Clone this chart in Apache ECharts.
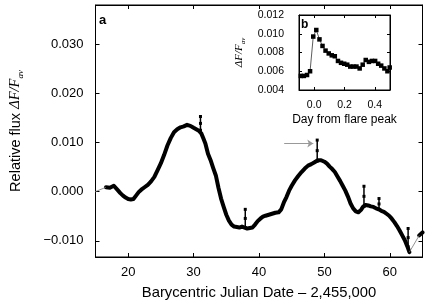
<!DOCTYPE html>
<html>
<head>
<meta charset="utf-8">
<script src="https://cdn.jsdelivr.net/npm/echarts@6/dist/echarts.min.js"></script>
<style>html,body{margin:0;padding:0;background:#fff}#chart{width:437px;height:308px}</style>
</head>
<body>
<div id="chart"></div>
<script>
var chart = echarts.init(document.getElementById('chart'));//初始化

// light curve
var mainX = [16.6,16.9,17.2,17.5,17.8,18.1,18.4,18.8,19.2,19.6,20.0,20.4,20.8,21.2,21.6,22.0,22.5,23.0,23.5,24.0,24.5,25.0,25.5,26.0,26.5,27.0,27.5,28.0,28.5,29.0,29.5,30.0,30.4,30.8,31.2,31.5,31.8,32.2,32.6,33.0,33.4,33.8,34.2,34.6,35.0,35.4,35.8,36.2,36.6,37.0,37.4,37.8,38.2,38.6,39.0,39.4,39.8,40.2,40.6,41.0,41.5,42.0,42.5,43.0,43.4,43.8,44.2,44.6,45.0,45.5,46.0,46.5,47.0,47.5,48.0,48.5,49.0,49.5,50.0,50.4,50.8,51.2,51.6,52.0,52.4,52.8,53.2,53.6,54.0,54.4,54.8,55.2,55.6,55.9,56.3,56.7,57.1,57.5,57.9,58.3,58.7,59.1,59.5,59.9,60.3,60.7,61.1,61.5,61.9,62.3,62.7,63.0];
var mainY = [0.0009,0.0005,0.0008,0.0011,0.0012,0.0008,0.0003,-0.0003,-0.0008,-0.0012,-0.0015,-0.0016,-0.0015,-0.0008,-0.0001,0.0004,0.0009,0.0014,0.0021,0.0030,0.0044,0.0058,0.0075,0.0094,0.0109,0.0121,0.0127,0.0131,0.0133,0.0136,0.0134,0.0130,0.0127,0.0124,0.0118,0.0108,0.0098,0.0077,0.0064,0.0048,0.0033,0.0008,-0.0014,-0.0031,-0.0047,-0.0059,-0.0067,-0.0071,-0.0072,-0.0073,-0.0071,-0.0073,-0.0075,-0.0074,-0.0073,-0.0067,-0.0060,-0.0055,-0.0051,-0.0049,-0.0047,-0.0045,-0.0043,-0.0042,-0.0036,-0.0022,-0.0011,0.0002,0.0012,0.0023,0.0032,0.0040,0.0047,0.0053,0.0056,0.0060,0.0064,0.0064,0.0061,0.0057,0.0051,0.0046,0.0040,0.0031,0.0022,0.0012,0.0002,-0.0010,-0.0024,-0.0034,-0.0040,-0.0042,-0.0037,-0.0031,-0.0027,-0.0028,-0.0030,-0.0031,-0.0034,-0.0036,-0.0039,-0.0041,-0.0045,-0.0049,-0.0055,-0.0062,-0.0070,-0.0079,-0.0089,-0.0099,-0.0112,-0.0123];
var tailX = [64.5,64.8,65.0];
var tailY = [-0.0089,-0.0085,-0.0083];
var gapX = [[14.8,16.6],[63.0,64.5]];
var gapY = [[-0.0001,0.0009],[-0.0123,-0.0089]];
// flares
var flareX = [31.05,37.9,48.9,56.05,58.35,62.8];
var flareBase = [0.0125,-0.0073,0.0062,-0.0030,-0.0036,-0.0112];
var flarePeak = [0.0153,-0.0036,0.0105,0.0011,-0.0014,-0.0075];
// inset b
var insetX = [-0.088,-0.068,-0.047,-0.027,-0.006,0.014,0.035,0.055,0.075,0.096,0.116,0.136,0.157,0.177,0.198,0.218,0.238,0.259,0.279,0.300,0.320,0.340,0.361,0.381,0.402,0.422,0.442,0.463,0.483,0.498];
var insetY = [0.0055,0.0055,0.0056,0.0060,0.0097,0.0104,0.0094,0.0087,0.0082,0.0079,0.0077,0.0076,0.0071,0.0069,0.0068,0.0067,0.0065,0.0065,0.0065,0.0063,0.0067,0.0072,0.0070,0.0071,0.0071,0.0068,0.0066,0.0063,0.0060,0.0064];
var xTicks = [20,30,40,50,60];
var yTicks = [-0.01,0,0.01,0.02,0.03];
var insetXTicks = [0,0.2,0.4];

function zip(a, b) { return a.map(function (v, i) { return [v, b[i]]; }); }
function fmt(v) { return (v < 0 ? '\u2212' : '') + Math.abs(v).toFixed(3); }

var FONT = 'Liberation Sans';
var fluxRich = {
    t: { fontFamily: FONT, fontSize: 14.5, color: '#000', lineHeight: 20, verticalAlign: 'middle' },
    m: { fontFamily: 'Liberation Serif', fontStyle: 'italic', fontSize: 14.5, color: '#000', lineHeight: 20, verticalAlign: 'middle' },
    s: { fontFamily: 'Liberation Serif', fontStyle: 'italic', fontSize: 9, color: '#000', lineHeight: 9, verticalAlign: 'bottom' }
};
var fluxRichSmall = {
    m: { fontFamily: 'Liberation Serif', fontStyle: 'italic', fontSize: 11, color: '#000', lineHeight: 16, verticalAlign: 'middle' },
    s: { fontFamily: 'Liberation Serif', fontStyle: 'italic', fontSize: 7, color: '#000', lineHeight: 7, verticalAlign: 'bottom' }
};

function valAxis(o) {//坐标轴公共部分
    return Object.assign({
        type: 'value',
        axisLine: { show: true, onZero: false, lineStyle: { color: '#000', width: 1 } },
        splitLine: { show: false },
        axisTick: { show: true, inside: true, length: 4, lineStyle: { color: '#000' } },
        axisLabel: { color: '#000', fontFamily: FONT }
    }, o);
}

var series = [
    {//主曲线
        type: 'line', xAxisIndex: 0, yAxisIndex: 0, showSymbol: false,
        data: zip(mainX, mainY),
        lineStyle: { color: '#000', width: 4, join: 'round', cap: 'round' },
        markLine: {//箭头
            silent: true, symbol: ['none', 'arrow'], symbolSize: 6,
            label: { show: false },
            lineStyle: { color: '#999', width: 1, type: 'solid' },
            data: [[{ coord: [43.85, 0.0098] }, { coord: [48.3, 0.0098] }]]
        }
    },
    {
        type: 'line', xAxisIndex: 0, yAxisIndex: 0, showSymbol: false,
        data: zip(tailX, tailY),
        lineStyle: { color: '#000', width: 4, cap: 'round' }
    }
];
gapX.forEach(function (g, i) {//数据间隙
    series.push({
        type: 'line', xAxisIndex: 0, yAxisIndex: 0, showSymbol: false,
        data: zip(g, gapY[i]),
        lineStyle: { color: '#777', width: 0.8 }
    });
});
flareX.forEach(function (x, i) {//耀斑
    series.push({
        type: 'line', xAxisIndex: 0, yAxisIndex: 0,
        symbol: 'rect', symbolSize: 3, showSymbol: true,
        itemStyle: { color: '#000' },
        data: [[x, flareBase[i]], [x, (flareBase[i] + flarePeak[i]) / 2], [x, flarePeak[i]]],
        lineStyle: { color: '#000', width: 1.5 }
    });
});
series.push({//插图
    type: 'line', xAxisIndex: 2, yAxisIndex: 2, z: 8,
    symbol: 'rect', symbolSize: 4.5, showSymbol: true,
    itemStyle: { color: '#000' },
    data: zip(insetX, insetY),
    lineStyle: { color: '#333', width: 0.8 }
});

var option = {
    animation: false,
    backgroundColor: '#fff',
    grid: [
        { left: 94.5, top: 5, width: 328, height: 252, show: true, borderColor: '#000', borderWidth: 1 },
        { left: 299, top: 15, width: 91, height: 75, show: true, borderColor: '#000', borderWidth: 1, backgroundColor: '#fff', z: 5 }
    ],
    xAxis: [
        valAxis({ gridIndex: 0, min: 15, max: 65,
            name: 'Barycentric Julian Date \u2013 2,455,000', nameLocation: 'middle', nameGap: 28,
            nameTextStyle: { fontFamily: FONT, fontSize: 14.8, color: '#000' },
            axisTick: { show: true, inside: true, length: 4, customValues: xTicks, lineStyle: { color: '#000' } },
            axisLabel: { color: '#000', fontFamily: FONT, fontSize: 13, margin: 9, customValues: xTicks } }),
        valAxis({ gridIndex: 0, min: 15, max: 65, position: 'top',
            axisTick: { show: true, inside: true, length: 4, customValues: xTicks, lineStyle: { color: '#000' } },
            axisLabel: { show: false } }),
        valAxis({ gridIndex: 1, min: -0.1, max: 0.5, z: 6,
            name: 'Day from flare peak', nameLocation: 'middle', nameGap: 24,
            nameTextStyle: { fontFamily: FONT, fontSize: 12, color: '#000' },
            axisTick: { show: true, inside: true, length: 3, customValues: insetXTicks, lineStyle: { color: '#000' } },
            axisLabel: { color: '#000', fontFamily: FONT, fontSize: 10.5, margin: 10, customValues: insetXTicks,
                formatter: function (v) { return v.toFixed(1); } } }),
        valAxis({ gridIndex: 1, min: -0.1, max: 0.5, position: 'top', z: 6,
            axisTick: { show: true, inside: true, length: 3, customValues: insetXTicks, lineStyle: { color: '#000' } },
            axisLabel: { show: false } })
    ],
    yAxis: [
        valAxis({ gridIndex: 0, min: -0.0133, max: 0.038,
            name: '{t|Relative flux }{m|\u0394F/F}{s|av}', nameLocation: 'middle', nameGap: 70,
            nameTextStyle: { rich: fluxRich },
            axisTick: { show: true, inside: true, length: 4, customValues: yTicks, lineStyle: { color: '#000' } },
            axisLabel: { color: '#000', fontFamily: FONT, fontSize: 13, margin: 12, customValues: yTicks, formatter: fmt } }),
        valAxis({ gridIndex: 0, min: -0.0133, max: 0.038, position: 'right',
            axisTick: { show: true, inside: true, length: 4, customValues: yTicks, lineStyle: { color: '#000' } },
            axisLabel: { show: false } }),
        valAxis({ gridIndex: 1, min: 0.004, max: 0.012, interval: 0.002, z: 6,
            name: '{m|\u0394F/F}{s|av}', nameLocation: 'middle', nameGap: 52,
            nameTextStyle: { rich: fluxRichSmall },
            axisTick: { show: true, inside: true, length: 3, lineStyle: { color: '#000' } },
            axisLabel: { color: '#000', fontFamily: FONT, fontSize: 10.5, margin: 15, formatter: fmt } }),
        valAxis({ gridIndex: 1, min: 0.004, max: 0.012, interval: 0.002, position: 'right', z: 6,
            axisTick: { show: true, inside: true, length: 3, lineStyle: { color: '#000' } },
            axisLabel: { show: false } })
    ],
    graphic: [
        { type: 'text', left: 99, top: 14, z: 10, style: { text: 'a', font: 'bold 13px Liberation Sans', fill: '#000' } },
        { type: 'text', left: 301, top: 19, z: 10, style: { text: 'b', font: 'bold 12px Liberation Sans', fill: '#000' } }
    ],
    series: series
};
chart.setOption(option);//用配置项配置echarts
</script>
</body>
</html>
